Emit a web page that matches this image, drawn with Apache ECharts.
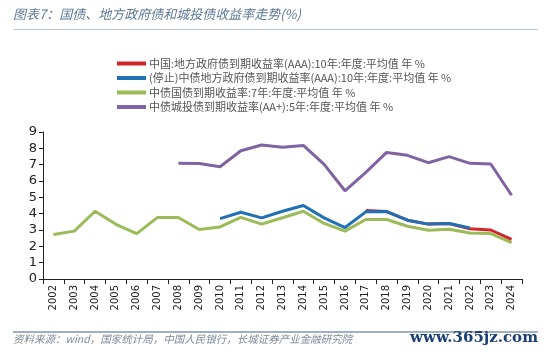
<!DOCTYPE html>
<html><head><meta charset="utf-8">
<script src="https://cdn.jsdelivr.net/npm/echarts@6/dist/echarts.min.js"></script>
<style>html,body{margin:0;padding:0;background:#fff}#c{width:550px;height:356px}</style>
</head><body><div id="c"></div>
<script>
const years = ['2002','2003','2004','2005','2006','2007','2008','2009','2010','2011','2012','2013','2014','2015','2016','2017','2018','2019','2020','2021','2022','2023','2024'];
const yTicks = [0,1,2,3,4,5,6,7,8,9];
const seriesNames = [
  '中国:地方政府债到期收益率(AAA):10年:年度:平均值 年 %',
  '(停止)中债地方政府债到期收益率(AAA):10年:年度:平均值 年 %',
  '中债国债到期收益率:7年:年度:平均值 年 %',
  '中债城投债到期收益率(AA+):5年:年度:平均值 年 %'
];
const localGovCN = [null,null,null,null,null,null,null,null,null,null,null,null,null,null,null,4.2,4.13,3.6,3.36,3.4,3.08,3.0,2.43];
const localGovCB = [null,null,null,null,null,null,null,null,3.7,4.09,3.74,4.15,4.5,3.74,3.15,4.11,4.13,3.6,3.36,3.4,3.13,null,null];
const treasury7 = [2.72,2.93,4.15,3.35,2.78,3.77,3.77,3.03,3.19,3.77,3.36,3.75,4.15,3.4,2.93,3.64,3.64,3.23,2.99,3.05,2.82,2.78,2.23];
const chengtou5 = [null,null,null,null,null,null,7.08,7.07,6.87,7.85,8.2,8.06,8.18,7.02,5.4,6.53,7.75,7.57,7.12,7.49,7.08,7.04,5.13];

const colors = ['#d0262a','#1f70b4','#9bbb59','#8064a2'];
const chart = echarts.init(document.getElementById('c'));
const mk = (i, data, z) => ({
  name: seriesNames[i], type: 'line', data: data, symbol: 'none', z: z,
  lineStyle: {width: 3, color: colors[i]}, itemStyle: {color: colors[i]},
  connectNulls: false, animation: false
});
chart.setOption({
  animation: false,
  graphic: [
    {type:'text', left: 13, top: 8, style:{text:'图表7：国债、地方政府债和城投债收益率走势(%)', font:'italic 13px "Noto Sans CJK SC"', fill:'#5b7896'}},
    {type:'rect', shape:{x:13, y:29, width:525, height:1}, style:{fill:'#b8c8d8'}},
    {type:'rect', shape:{x:13, y:331, width:525, height:2}, style:{fill:'#9fb0c2'}},
    {type:'text', left: 13, top: 334, style:{text:'资料来源：wind，国家统计局，中国人民银行，长城证券产业金融研究院', font:'italic 10.5px "Noto Sans CJK SC"', fill:'#7d8a98'}},
    {type:'text', right: 12, top: 331, style:{text:'www.365jz.com', font:'bold 15px "DejaVu Serif"', fill:'#1c3f74'}}
  ],
  legend: {
    orient: 'vertical', left: 112, top: 53, itemWidth: 29, itemHeight: 4, itemGap: 3.5,
    icon: 'rect',
    textStyle: {fontSize: 11, color: '#555', fontFamily: '"Noto Sans CJK SC"', padding:[0,0,0,-2]},
    data: seriesNames
  },
  grid: {left: 43, right: 28, top: 132, bottom: 77, containLabel: false},
  xAxis: {
    type: 'category', data: years, boundaryGap: true,
    axisLine: {lineStyle: {color: '#222', width: 1}},
    axisTick: {show: true, alignWithLabel: false, length: 5, lineStyle:{color:'#222'}},
    axisLabel: {rotate: 90, fontSize: 10, color: '#222', fontFamily: 'DejaVu Sans', interval: 0, margin: 6}
  },
  yAxis: {
    type: 'value', min: yTicks[0], max: yTicks[yTicks.length-1], interval: 1,
    splitLine: {show: false},
    axisLine: {show: true, lineStyle: {color: '#222'}},
    axisTick: {show: true, length: 4, lineStyle:{color:'#222'}},
    axisLabel: {fontSize: 13, color: '#222', fontFamily: 'DejaVu Sans', margin: 6}
  },
  series: [mk(2, treasury7, 2), mk(0, localGovCN, 3), mk(1, localGovCB, 4), mk(3, chengtou5, 5)]
});
</script></body></html>
